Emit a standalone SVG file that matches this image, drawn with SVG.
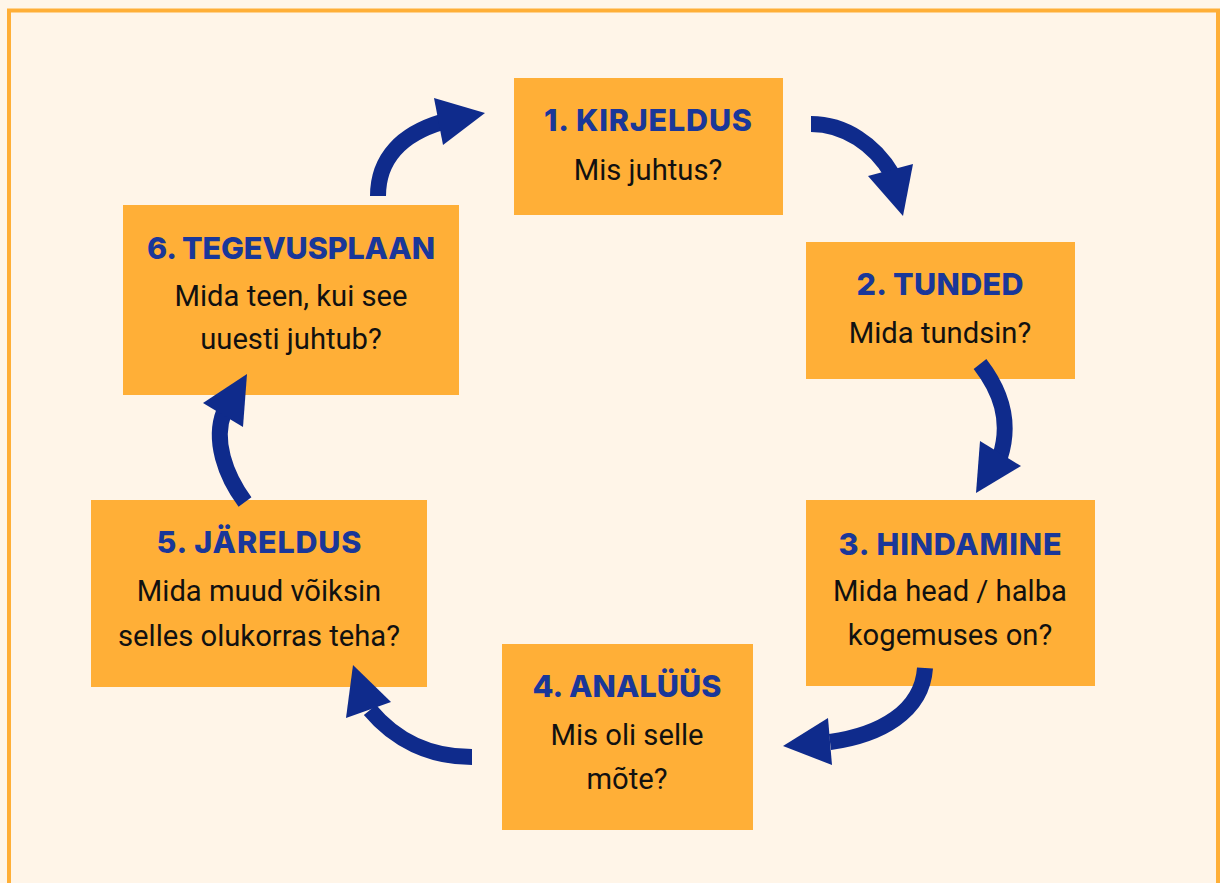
<svg xmlns="http://www.w3.org/2000/svg" width="1220" height="883" viewBox="0 0 1220 883">
<defs>
<style>
.box{fill:#FFAF37;}
.t{font-family:Inter,"Noto Sans",sans-serif;font-weight:800;font-size:30.5px;fill:#1A3799;text-anchor:middle;}
.b{font-family:Roboto,"Noto Sans",sans-serif;font-size:29.2px;fill:#111;text-anchor:middle;}
.arc{fill:none;stroke:#0F2B8C;stroke-width:16;}
.head{fill:#0F2B8C;}
</style>
</defs>
<rect x="0" y="0" width="1220" height="883" fill="#FFF6E9"/>
<rect x="9" y="10.5" width="1209" height="900" fill="#FFF5E8" stroke="#FFAF37" stroke-width="4"/>
<g id="node1">
<rect class="box" x="514" y="78" width="269" height="137"/>
<text class="t" x="648" y="131" textLength="208">1. KIRJELDUS</text>
<text class="b" x="648" y="180">Mis juhtus?</text>
</g>
<g id="node2">
<rect class="box" x="806" y="242" width="269" height="137"/>
<text class="t" x="940" y="295" textLength="167">2. TUNDED</text>
<text class="b" x="940" y="343">Mida tundsin?</text>
</g>
<g id="node3">
<rect class="box" x="806" y="500" width="289" height="186"/>
<text class="t" x="950" y="555" textLength="223">3. HINDAMINE</text>
<text class="b" x="950" y="601">Mida head / halba</text>
<text class="b" x="950" y="645">kogemuses on?</text>
</g>
<g id="node4">
<rect class="box" x="502" y="644" width="251" height="186"/>
<text class="t" x="627" y="697" textLength="189">4. ANALÜÜS</text>
<text class="b" x="627" y="745">Mis oli selle</text>
<text class="b" x="627" y="789">mõte?</text>
</g>
<g id="node5">
<rect class="box" x="91" y="500" width="336" height="187"/>
<text class="t" x="259" y="553" textLength="205">5. JÄRELDUS</text>
<text class="b" x="259" y="601">Mida muud võiksin</text>
<text class="b" x="259" y="646">selles olukorras teha?</text>
</g>
<g id="node6">
<rect class="box" x="123" y="205" width="336" height="190"/>
<text class="t" x="291" y="259" textLength="288">6. TEGEVUSPLAAN</text>
<text class="b" x="291" y="306">Mida teen, kui see</text>
<text class="b" x="291" y="349">uuesti juhtub?</text>
</g>
<g id="connectors">
<path class="arc" d="M378,196 C378,158 402,134 442,122"/>
<polygon class="head" points="434,98 485,113 443,145"/>
<path class="arc" d="M811,124 C845,124 875,145 892,174"/>
<polygon class="head" points="868,176 913,164 903,216"/>
<path class="arc" d="M980,364 C1000,390 1012,420 1000,457"/>
<polygon class="head" points="980,441 1021,466 976,493"/>
<path class="arc" d="M925,668 C922,712 880,735 830,742"/>
<polygon class="head" points="828,718 783,746 832,765"/>
<path class="arc" d="M472,757 C430,757 395,740 370,710"/>
<polygon class="head" points="353,665 391,702 346,718"/>
<path class="arc" d="M245,502 C225,475 213,440 224,412"/>
<polygon class="head" points="203,403 247,374 243,427"/>
</g>
</svg>
